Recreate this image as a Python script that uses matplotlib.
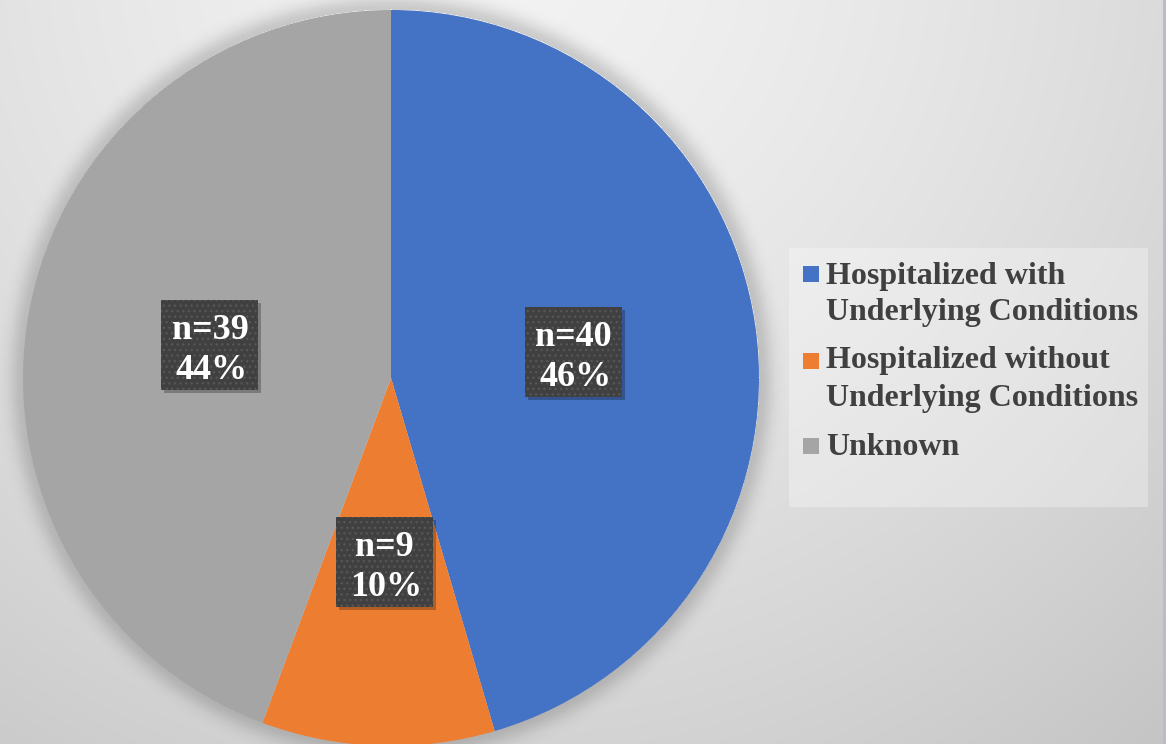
import numpy as np
import matplotlib
matplotlib.use("Agg")
import matplotlib.pyplot as plt
from matplotlib.patches import Rectangle

categories = [["Hospitalized with", "Underlying Conditions"],
              ["Hospitalized without", "Underlying Conditions"],
              ["Unknown"]]
counts = [40, 9, 39]
percents = ["46%", "10%", "44%"]
colors = ["#4472C4", "#ED7D31", "#A5A5A5"]

W, H = 1166, 744
fig = plt.figure(figsize=(W / 100, H / 100), dpi=100)
ax = fig.add_axes([0, 0, 1, 1])

# background: soft radial grey gradient, light at the top
yy, xx = np.mgrid[0:H, 0:W]
d = np.hypot(xx - 500, yy - (H + 50)) / 1000.0
bg = np.clip(0.95 - 0.17 * d ** 1.5, 0, 1)
ax.imshow(np.dstack([bg, bg, bg]), extent=(0, W, 0, H), origin='lower', zorder=0)

cx, cy, R = 391, H - 378, 368

# soft shadow around the pie
dist = np.hypot(xx - cx, yy - cy) - R
sh = np.where(dist > 0, 0.16 * np.exp(-(dist / 14.0) ** 2), 0)
shadow = np.zeros((H, W, 4))
shadow[..., 3] = sh
ax.imshow(shadow, extent=(0, W, 0, H), origin='lower', zorder=1)

wedges, _ = ax.pie(counts, colors=colors, startangle=90, counterclock=False,
                   center=(cx, cy), radius=R, frame=True,
                   wedgeprops=dict(linewidth=0, zorder=2))
ax.set_xlim(0, W)
ax.set_ylim(0, H)
ax.set_aspect('equal')
ax.axis('off')

# data label boxes
bw, bh = 97, 90
font = dict(color='white', fontsize=26, fontweight='bold',
            family='Liberation Serif', zorder=5)
for w, n, p in zip(wedges, counts, percents):
    ang = np.deg2rad((w.theta1 + w.theta2) / 2)
    lx = cx + 0.5 * R * np.cos(ang)
    ly = cy + 0.5 * R * np.sin(ang)
    ax.add_patch(Rectangle((lx - bw / 2 + 3, ly - bh / 2 - 3), bw, bh,
                           facecolor='black', alpha=0.25, linewidth=0, zorder=3))
    ax.add_patch(Rectangle((lx - bw / 2, ly - bh / 2), bw, bh, facecolor='#404040',
                           edgecolor='#565656', hatch='...', linewidth=0, zorder=4))
    ax.text(lx, ly + 6, f"n={n}", ha='center', va='baseline', **font)
    ax.text(lx + 2, ly - 34, p, ha='center', va='baseline', **font)

# legend
ax.add_patch(Rectangle((789, H - 507), 359, 259, facecolor='white', alpha=0.3,
                       linewidth=0, zorder=3))
sq_top = [266, 353, 438]
baselines = [[284, 320], [368, 406], [455]]
for c, lines, t, bls in zip(colors, categories, sq_top, baselines):
    ax.add_patch(Rectangle((803, H - t - 16), 16, 16, facecolor=c, linewidth=0, zorder=4))
    for line, b in zip(lines, bls):
        ax.text(826, H - b, line, ha='left', va='baseline', color='#404040',
                fontsize=23, fontweight='bold', family='Liberation Serif', zorder=4)

# thin frame edge at right
ax.add_patch(Rectangle((1163, 0), 3, H, facecolor='#b9bec6', linewidth=0, zorder=4))

fig.savefig("out.png", dpi=100)
